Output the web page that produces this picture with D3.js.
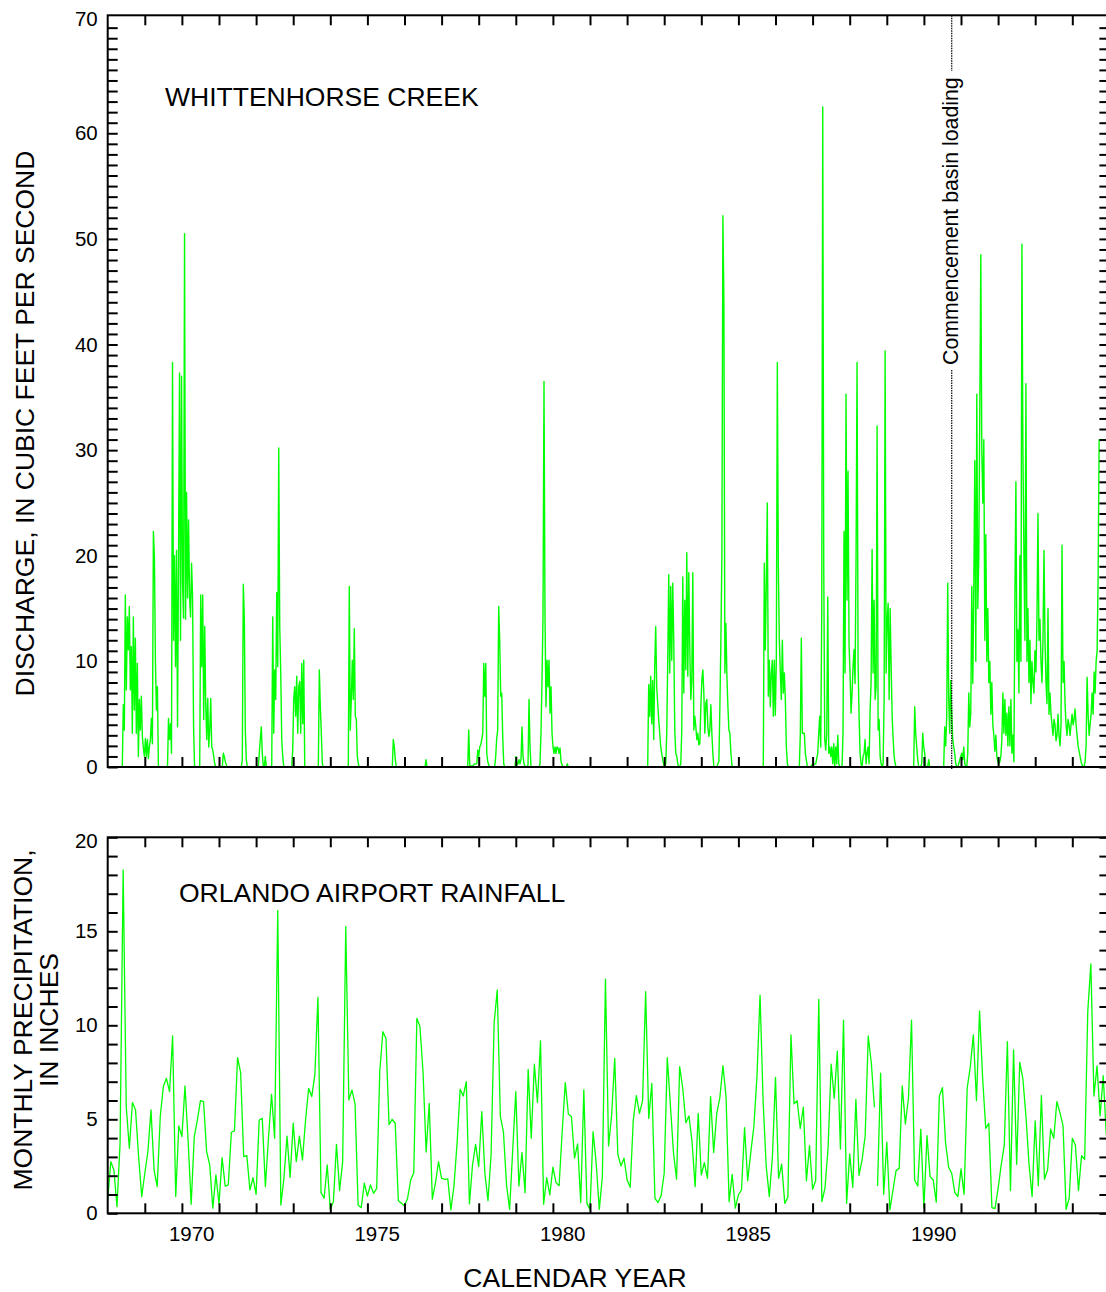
<!DOCTYPE html>
<html>
<head>
<meta charset="utf-8">
<script src="https://cdn.jsdelivr.net/npm/d3@7"></script>
<style>
html, body { margin: 0; padding: 0; background: #fff; overflow: hidden; }
svg { display: block; }
text { font-family: "Liberation Sans", Arial, Helvetica, sans-serif; fill: #000; }
</style>
</head>
<body>
<svg id="chart" width="1106" height="1292"></svg>
<script>
// ---------------------------------------------------------------
// Data
// ---------------------------------------------------------------

// Monthly precipitation at Orlando airport, inches, starting October 1967.
const precipStartYear = 1967.75;
const precipInches = [
  0.71, 2.75, 2.30, 0.35, 3.72, 18.26, 5.67, 3.46, 5.89, 5.50, 3.01, 0.89,
  2.13, 3.28, 5.50, 2.30, 1.42, 5.14, 6.74, 7.18, 6.47, 9.43, 0.89, 4.65,
  4.08, 6.77, 3.90, 0.48, 4.08, 4.96, 5.99, 5.94, 3.28, 2.57, 0.27, 2.04,
  0.50, 2.96, 1.45, 1.51, 4.31, 4.38, 8.28, 7.48, 3.01, 3.07, 1.24, 1.90,
  1.01, 4.96, 5.05, 1.42, 3.99, 6.33, 3.99, 16.10, 0.44, 1.86, 4.11, 1.91,
  4.79, 2.75, 4.11, 2.84, 4.96, 6.65, 6.21, 7.36, 11.49, 1.10, 0.80, 2.57,
  0.21, 0.62, 3.67, 1.21, 2.75, 15.25, 6.03, 6.56, 5.82, 0.44, 0.30, 1.60,
  0.92, 1.51, 1.06, 1.33, 7.54, 9.66, 9.31, 4.72, 5.00, 4.79, 0.67, 0.53,
  0.39, 0.80, 1.77, 2.16, 10.37, 9.93, 7.50, 3.26, 5.85, 0.76, 1.60, 2.75,
  1.86, 1.81, 1.83, 0.18, 1.45, 3.72, 6.60, 6.24, 7.00, 0.50, 2.57, 3.67,
  2.48, 5.41, 2.13, 0.67, 3.10, 10.14, 11.88, 5.14, 4.34, 1.51, 0.21, 3.37,
  6.47, 1.45, 3.23, 1.10, 7.66, 3.99, 7.93, 5.90, 9.17, 0.48, 1.90, 0.98,
  2.45, 1.63, 1.47, 4.34, 6.95, 5.28, 5.14, 2.93, 3.69, 0.57, 6.56, 0.53,
  0.21, 4.34, 2.66, 0.21, 1.95, 12.45, 3.58, 5.23, 8.24, 3.14, 2.52, 2.93,
  1.77, 1.38, 4.96, 6.26, 5.32, 5.98, 11.79, 5.05, 6.91, 0.80, 0.57, 0.94,
  2.13, 8.28, 5.76, 3.23, 1.81, 7.80, 6.65, 4.82, 5.18, 3.81, 1.42, 5.32,
  2.04, 2.70, 1.86, 6.21, 3.23, 5.32, 6.15, 7.85, 6.21, 0.62, 2.07, 0.27,
  0.98, 1.24, 4.56, 1.74, 3.23, 4.61, 7.27, 11.61, 5.94, 2.48, 0.89, 3.00,
  7.23, 1.86, 2.61, 0.53, 0.85, 9.49, 5.82, 5.99, 4.52, 5.64, 1.72, 3.60,
  1.28, 1.74, 11.38, 0.62, 1.33, 3.46, 7.93, 6.12, 8.63, 3.42, 10.28, 0.53,
  3.16, 1.38, 6.06, 2.02, 2.84, 4.11, 9.43, 7.98, 5.64, 1.45, 7.45, 1.01,
  3.78, 0.18, 1.24, 2.27, 2.39, 6.77, 4.75, 6.12, 10.28, 1.77, 1.45, 4.47,
  0.27, 4.13, 1.95, 1.77, 0.59, 6.24, 6.68, 3.76, 2.45, 2.13, 1.10, 0.89,
  2.36, 1.01, 6.65, 7.80, 9.49, 5.99, 10.76, 7.18, 4.52, 4.79, 0.30, 0.25,
  1.33, 2.57, 3.63, 9.13, 1.21, 8.69, 2.61, 8.03, 7.18, 5.18, 2.61, 0.89,
  4.91, 1.47, 6.26, 1.81, 2.30, 4.47, 3.99, 5.94, 5.35, 4.66, 0.21, 0.80,
  3.99, 3.63, 1.21, 3.07, 2.87, 10.73, 13.26, 6.24, 7.84, 5.18, 7.32, 4.17
];
// The precipitation record is not joined between June and July 1988.
const precipBreakIndex = 249;

// Whittenhorse Creek discharge, cubic feet per second. Each run is a
// stretch of readings spaced one sampling interval apart, beginning at
// the decimal year given in dischargeRunStart; runs begin and end at
// zero flow, so joining them traces the dry periods in between.
const dischargeStep = 1 / 37;
const dischargeRunStart = [
  1967.75, 1968.144, 1969.362, 1970.230, 1970.839, 1971.351, 1971.809,
  1972.171, 1972.710, 1973.427, 1974.235, 1975.421, 1976.303, 1977.454,
  1978.181, 1978.728, 1979.375, 1980.111, 1982.305, 1985.421, 1986.392,
  1986.699, 1987.543, 1989.475, 1990.284
];
const dischargeRuns = [
  [0],
  [0, 5.9, 3.5, 16.3, 7.3, 14.2, 11.1, 15.2, 7.3, 11.4, 3.2, 14.2, 5.4, 12.2, 3.2, 9.8, 1.0, 6.4, 3.5, 6.7, 2.9, 1.8, 1.0, 2.7, 1.0, 2.6, 0.8, 1.9, 2.6, 4.6, 2.2, 22.3, 19.9, 10.1, 5.4, 7.6, 0],
  [0, 4.6, 2.6, 4.1, 1.3, 38.3, 12, 20, 9.5, 20.5, 3.8, 20, 37.3, 12, 37, 17.4, 14.1, 50.5, 14, 26, 16, 23.4, 16.1, 14.2, 19.3, 16.1, 3.8, 0],
  [0, 16.3, 9.5, 16.3, 4.5, 13.3, 6, 2.6, 6.5, 1.9, 3.5, 6.5, 1.9, 1.6, 1.0, 0.3, 0],
  [0, 1.3, 1.0, 0.5, 0.2, 0],
  [0, 0.7, 17.3, 14.2, 3.5, 0.7, 0],
  [0, 1.3, 2.6, 3.8, 1.3, 0, 0, 1.0, 0],
  [0, 14.2, 3.2, 9.2, 6.4, 16.5, 9.5, 30.2, 13.3, 8.9, 2.6, 1.0, 0],
  [0, 1.6, 6.4, 7.6, 4.8, 8.6, 3.2, 7.6, 8.1, 3.2, 9.8, 4.1, 10.1, 0],
  [0, 9.2, 5.7, 3.2, 0.3, 0],
  [0, 17.1, 3.5, 6.4, 10.1, 6.4, 13.1, 4.8, 4.5, 1.0, 0.3, 0],
  [0, 2.6, 1.9, 0.7, 0],
  [0, 0.7, 0],
  [0, 3.5, 0.2, 0.1, 0.1, 0.1, 0.2, 0.3, 0.3, 0.3, 1.6, 1.0, 1.9, 2.1, 2.6, 3.2, 9.8, 6.7, 9.8, 1.3, 0.5, 0.2, 0],
  [0, 1.0, 2.7, 3.5, 15.2, 12.0, 6.7, 7.0, 2.9, 0.3, 0],
  [0, 1.0, 0.2, 0.3, 0.7, 0.3, 0.7, 3.8, 1.0, 0.3, 0.1, 0, 0, 0.2, 6.4, 1.9, 0],
  [0, 0.3, 3.2, 8.2, 14.2, 36.5, 14.2, 5.7, 10.1, 7.6, 10.1, 5.1, 7.6, 3.2, 1.9, 1.3, 1.9, 1.3, 1.9, 1.8, 1.3, 1.8, 0.5, 0.2, 0],
  [0, 0.3, 0],
  [0, 7.8, 4.8, 8.6, 4.1, 8.2, 2.6, 9.5, 13.3, 7.6, 6.0, 4.5, 3.2, 1.9, 1.3, 0.7, 0.2, 0, 0.3, 3.2, 10.1, 18.2, 8.9, 17.1, 10.1, 17.4, 12.0, 3.5, 1.3, 1.0, 0.3, 0, 0, 0.3, 3.5, 18.0, 7.0, 15.8, 9.2, 20.3, 8.6, 18.4, 11.1, 6.4, 8.2, 18.4, 3.5, 4.8, 3.8, 2.6, 3.2, 2.1, 2.2, 5.7, 8.2, 9.2, 7.0, 3.2, 6.0, 6.4, 3.8, 2.9, 3.5, 5.9, 3.2, 1.3, 0, 0, 0, 0, 0.3, 0.5, 5.7, 12.0, 20.1, 52.2, 44, 8.9, 13.6, 8.6, 5.7, 3.5, 3.2, 1.3, 0.2, 0],
  [0, 19.3, 11.1, 17.4, 25, 6.7, 10.1, 5.7, 8.9, 10.1, 4.8, 10.1, 4.9, 10.1, 38.3, 19.0, 12.0, 8.9, 6.4, 12.0, 7.0, 8.9, 6.4, 1.9, 0.3, 0],
  [0, 3.2, 12.2, 3.2, 3.2, 3.2, 1.3, 0.7, 0],
  [0, 0.2, 0.2, 0.2, 0.3, 0.3, 0.8, 1.3, 3.2, 4.8, 1.9, 14.6, 62.5, 19.0, 2.6, 1.6, 3.2, 16.1, 1.3, 1.9, 1.0, 1.9, 0.3, 2.2, 0, 1.9, 0.3, 3.0, 0.3, 0],
  [0, 3.2, 22.3, 8.9, 35.3, 15.8, 28, 11.7, 8.9, 5.1, 7.0, 9.5, 11.1, 7.9, 20, 38.3, 10, 4.8, 1.3, 0.3, 0, 1.0, 1.3, 2.6, 0.3, 1.3, 1.9, 0.3, 5.4, 8, 20.6, 8.9, 15.8, 6.4, 7.6, 32.3, 3.5, 4.5, 1.0, 0.3, 0, 0.3, 6.4, 39.4, 8.9, 13.9, 15.5, 6.4, 15, 9.5, 4.8, 2.6, 1.0, 0.3, 0],
  [0, 5.7, 3.2, 1.9, 0.7, 0, 0, 0, 0.3, 3.2, 1.9, 1.3, 0, 0, 0, 0.7, 0],
  [0, 3.8, 2.0, 4.8, 17.4, 6.4, 3.2, 8.2, 5.1, 2.6, 1.9, 1.3, 0.3, 0, 0, 0.3, 0.7, 1.0, 1.3, 0.7, 1.9, 0.3, 0, 0, 1.3, 7.0, 3.8, 5.1, 17.1, 7.9, 17.1, 29, 10, 35.3, 15, 20, 34, 48.5, 30, 25, 31, 12, 22, 10, 15, 8, 10, 5, 8, 4, 3, 1.5, 3, 1, 0.5, 0.3, 0.5, 1.0, 2.6, 7.0, 3.2, 6.4, 3, 5.1, 2, 5.7, 2, 6.4, 1.3, 3, 0.5, 16, 27, 10, 13, 7, 20, 10, 49.5, 30, 20, 12, 36.3, 10, 15, 8, 12, 6, 10, 8, 7, 11, 9, 14, 24, 12, 14, 10, 8, 12, 20.5, 12, 8, 6, 15, 5, 7, 5, 4, 3, 4.5, 4, 2.5, 3, 5, 3, 2, 4, 21, 8, 10, 6, 4, 3, 4.5, 4, 3, 4, 5, 4, 4.5, 5.5, 4, 3, 2, 1.5, 1, 0.5, 0.2, 0, 0, 0.5, 2, 8.5, 5, 3, 4, 5, 7, 5, 9, 7, 10, 11, 18, 31, 31, 31, 31, 31, 31, 31, 31, 31]
];

// Date when loading of the detention basin began.
const commencementYear = 1990.5;
const commencementLabel = "Commencement basin loading";

// Axis labelling.
const yearLabels = [1970, 1975, 1980, 1985, 1990];
const waterYearTicks = d3.range(1968, 1994).map(y => y + 0.75); // October 1 of each year
const dischargeMinor = d3.range(0, 71);
const dischargeLabels = [0, 10, 20, 30, 40, 50, 60, 70];
const precipMinor = d3.range(0, 21);
const precipLabels = [0, 5, 10, 15, 20];

const titleDischarge = "DISCHARGE, IN CUBIC FEET PER SECOND";
const titlePrecip = ["MONTHLY PRECIPITATION,", "IN INCHES"];
const titleX = "CALENDAR YEAR";
const panelTop = "WHITTENHORSE CREEK";
const panelBottom = "ORLANDO AIRPORT RAINFALL";

// ---------------------------------------------------------------
// Layout
// ---------------------------------------------------------------
const plotLeft = 107.7, plotRight = 1109.4;
const top1 = 15.3, bottom1 = 767;
const top2 = 837.3, bottom2 = 1213.3;
const GREEN = "#00ff00";
const TICK_FONT = "20.5px";

const svg = d3.select("#chart");

const x = d3.scaleLinear().domain([1967.75, 1994.75]).range([plotLeft, plotRight]);
const yQ = d3.scaleLinear().domain([0, 71.17]).range([bottom1, top1]);
const yP = d3.scaleLinear().domain([0, 20]).range([bottom2, top2]);

// clip regions for the two panels
const defs = svg.append("defs");
[["clipQ", top1, bottom1], ["clipP", top2, bottom2]].forEach(([id, t, b]) => {
  defs.append("clipPath").attr("id", id).append("rect")
    .attr("x", plotLeft).attr("y", t - 2)
    .attr("width", plotRight - plotLeft).attr("height", b - t + 2);
});

function styleAxis(g) {
  g.select(".domain").remove();
  g.selectAll(".tick line").attr("stroke", "#000").attr("stroke-width", 2);
  g.attr("font-family", null).attr("font-size", null);
  g.selectAll("text").style("font-size", TICK_FONT).attr("fill", "#000");
}

function drawFrame(y, t, b, minor, labels) {
  svg.append("g").attr("transform", `translate(0,${t})`)
    .call(d3.axisBottom(x).tickValues(waterYearTicks).tickSize(10).tickFormat(""))
    .call(styleAxis);
  svg.append("g").attr("transform", `translate(0,${b})`)
    .call(d3.axisTop(x).tickValues(waterYearTicks).tickSize(10).tickFormat(""))
    .call(styleAxis);
  svg.append("g").attr("transform", `translate(${plotLeft},0)`)
    .call(d3.axisRight(y).tickValues(minor).tickSize(10).tickFormat(""))
    .call(styleAxis);
  svg.append("g").attr("transform", `translate(${plotRight},0)`)
    .call(d3.axisLeft(y).tickValues(minor).tickSize(10).tickFormat(""))
    .call(styleAxis);
  const lab = svg.append("g").attr("transform", `translate(${plotLeft},0)`)
    .call(d3.axisLeft(y).tickValues(labels).tickSize(0).tickPadding(10).tickFormat(d3.format("d")))
    .call(styleAxis);
  // the top label sits just inside the upper edge of the frame
  const topVal = labels[labels.length - 1];
  lab.selectAll(".tick").filter(d => d === topVal).select("text")
    .attr("y", (t + 3.5) - y(topVal));
  svg.append("rect")
    .attr("x", plotLeft).attr("y", t)
    .attr("width", plotRight - plotLeft).attr("height", b - t)
    .attr("fill", "none").attr("stroke", "#000").attr("stroke-width", 2);
}

// ---------------------------------------------------------------
// Upper panel: discharge
// ---------------------------------------------------------------
const dischargePoints = [];
dischargeRuns.forEach((run, k) => {
  run.forEach((v, i) => dischargePoints.push([dischargeRunStart[k] + i * dischargeStep, v]));
});

const lineQ = d3.line().x(d => x(d[0])).y(d => yQ(d[1]));
svg.append("path")
  .datum(dischargePoints)
  .attr("clip-path", "url(#clipQ)")
  .attr("d", lineQ)
  .attr("fill", "none")
  .attr("stroke", GREEN)
  .attr("stroke-width", 1.4)
  .attr("stroke-linejoin", "round");

// marker for the start of basin loading, broken around its label
const cx = x(commencementYear);
const labelTopY = 77, labelBottomY = 365;
svg.append("g").selectAll("line")
  .data([[top1, labelTopY - 6], [labelBottomY + 5, bottom1 + 3]])
  .join("line")
  .attr("x1", cx).attr("x2", cx)
  .attr("y1", d => d[0]).attr("y2", d => d[1])
  .attr("stroke", "#000").attr("stroke-width", 1.2)
  .attr("stroke-dasharray", "1.5,1");
svg.append("text")
  .attr("transform", `translate(${cx + 6},${labelBottomY}) rotate(-90)`)
  .attr("text-anchor", "start")
  .style("font-size", "21.3px")
  .text(commencementLabel);

drawFrame(yQ, top1, bottom1, dischargeMinor, dischargeLabels);

svg.append("text").attr("x", 165).attr("y", 106)
  .style("font-size", "26.5px").text(panelTop);

svg.append("text")
  .attr("transform", `translate(33.5,${(150 + 697) / 2}) rotate(-90)`)
  .attr("text-anchor", "middle")
  .style("font-size", "26.5px")
  .text(titleDischarge);

// ---------------------------------------------------------------
// Lower panel: precipitation
// ---------------------------------------------------------------
const precipPoints = precipInches.map((v, i) => [precipStartYear + i / 12, v]);
const lineP = d3.line().x(d => x(d[0])).y(d => yP(d[1]));
svg.append("g").attr("clip-path", "url(#clipP)")
  .selectAll("path")
  .data([precipPoints.slice(0, precipBreakIndex), precipPoints.slice(precipBreakIndex)])
  .join("path")
  .attr("d", lineP)
  .attr("fill", "none")
  .attr("stroke", GREEN)
  .attr("stroke-width", 1.3)
  .attr("stroke-linejoin", "round");

drawFrame(yP, top2, bottom2, precipMinor, precipLabels);

svg.append("text").attr("x", 179).attr("y", 901.7)
  .style("font-size", "26.5px").text(panelBottom);

const pt = svg.append("text")
  .attr("transform", `translate(31.7,1020) rotate(-90)`)
  .attr("text-anchor", "middle")
  .style("font-size", "26.5px");
pt.selectAll("tspan").data(titlePrecip).join("tspan")
  .attr("x", 0).attr("dy", (d, i) => i === 0 ? 0 : 26.6)
  .text(d => d);

// year labels along the bottom
svg.append("g").attr("transform", `translate(0,${bottom2})`)
  .call(d3.axisBottom(x).tickValues(yearLabels).tickSize(0).tickPadding(13.5).tickFormat(d3.format("d")))
  .call(styleAxis);

svg.append("text").attr("x", 575).attr("y", 1287)
  .attr("text-anchor", "middle")
  .style("font-size", "26.5px").text(titleX);
</script>
</body>
</html>
